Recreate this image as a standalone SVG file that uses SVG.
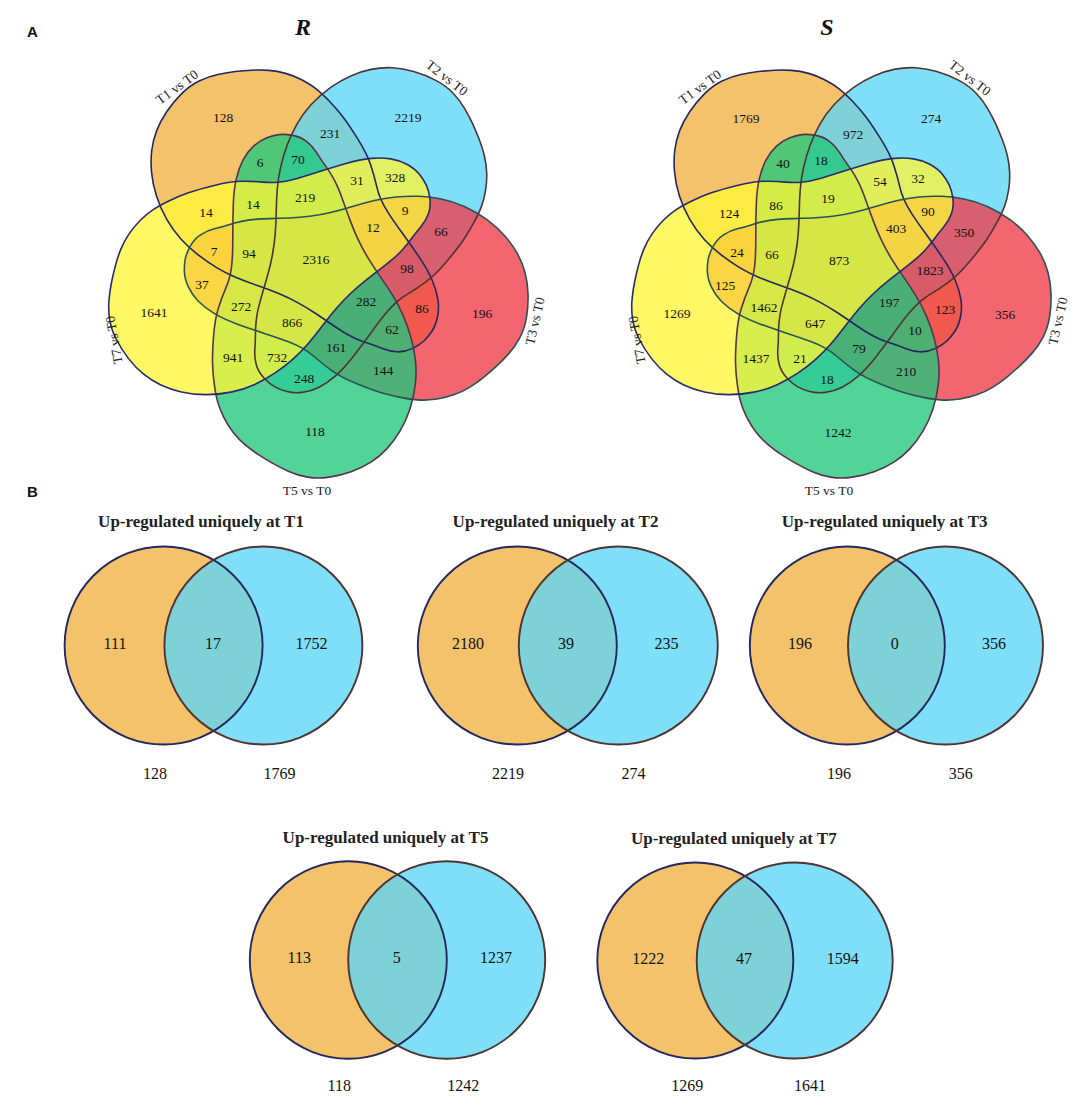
<svg xmlns="http://www.w3.org/2000/svg" xmlns:xlink="http://www.w3.org/1999/xlink" width="1084" height="1106" viewBox="0 0 1084 1106">
<style>
.f1{fill:#F0B140;fill-opacity:.78}
.f2{fill:#5CD6F6;fill-opacity:.78}
.f3{fill:#F03B48;fill-opacity:.78}
.f5{fill:#21C77B;fill-opacity:.78}
.f7{fill:#FCF638;fill-opacity:.78}
.o{fill:none;stroke-width:1.6}
.ob{fill:none;stroke-width:1.9}
.s1{stroke:#24285E}
.s2{stroke:#4E3432}
.s3{stroke:#2A5355}
.s5{stroke:#55344E}
.s7{stroke:#2A2A6E}
.n{font-family:"Liberation Serif","Times New Roman",serif;font-size:13.5px;text-anchor:middle;fill:#111}
.lab{font-family:"Liberation Serif","Times New Roman",serif;font-size:13.5px;text-anchor:middle;fill:#222}
.bn{font-family:"Liberation Serif","Times New Roman",serif;font-size:16px;text-anchor:middle;fill:#111}
.bt{font-family:"Liberation Serif","Times New Roman",serif;font-size:17px;font-weight:bold;text-anchor:middle;fill:#222}
.pl{font-family:"Liberation Sans",Arial,sans-serif;font-weight:bold;font-size:15px;fill:#111}
.ttl{font-family:"Liberation Serif","Times New Roman",serif;font-weight:bold;font-style:italic;font-size:24px;text-anchor:middle;fill:#111}
</style>
<defs>
<path id="sh" d="M-39,-126.75 Q-33,-127.5 -25,-126 Q-17,-124.5 -11,-119.75 Q-5,-115 -1,-108.5 Q3,-102 7,-96.5 Q11,-91 14.5,-85 Q18,-79 20.5,-73 Q23,-67 26,-58.5 Q29,-50 32.5,-40.5 Q36,-31 40.5,-21.5 Q45,-12 50.5,-3 Q56,6 63,16 Q70,26 75.5,35 Q81,44 85.5,54.5 Q90,65 93,75.5 Q96,86 97.5,98 Q99,110 97.5,123 Q96,136 92,148 Q88,160 82,170 Q76,180 69,187.5 Q62,195 53.5,200.5 Q45,206 34,210 Q23,214 11.5,215.75 Q0,217.5 -10,215.75 Q-20,214 -29,210 Q-38,206 -45,202 Q-52,198 -59,193.5 Q-66,189 -72.5,183.5 Q-79,178 -84.5,171 Q-90,164 -94,156 Q-98,148 -100,141 Q-102,134 -103.5,123 Q-105,112 -105.25,102 Q-105.5,92 -104.25,75 Q-103,58 -99.5,47 Q-96,36 -92.5,28 Q-89,20 -87.5,13 Q-86,6 -85.5,-3 Q-85,-12 -85,-27 Q-85,-42 -84.5,-57 Q-84,-72 -81.5,-82.5 Q-79,-93 -75,-101 Q-71,-109 -64.5,-115 Q-58,-121 -51.5,-123.5 Q-45,-126 -39,-126.75 Z"/>
</defs>
<rect width="1084" height="1106" fill="#ffffff"/>

<text class="pl" x="27" y="37">A</text>
<text class="pl" x="27" y="497">B</text>
<text class="ttl" x="303" y="35">R</text>
<text class="ttl" x="827" y="35">S</text>

<!-- R five-set diagram -->
<g id="venn-R" transform="translate(317.8,261.4)">
  <g id="R-T1"><use href="#sh" class="f1" transform="rotate(144)"/></g>
  <g id="R-T2"><use href="#sh" class="f2" transform="rotate(-144)"/></g>
  <g id="R-T3"><use href="#sh" class="f3" transform="rotate(-72)"/></g>
  <g id="R-T5"><use href="#sh" class="f5"/></g>
  <g id="R-T7"><use href="#sh" class="f7" transform="rotate(72)"/></g>
  <g id="R-outlines" class="o">
    <use href="#sh" class="s1" transform="rotate(144)"/>
    <use href="#sh" class="s2" transform="rotate(-144)"/>
    <use href="#sh" class="s3" transform="rotate(-72)"/>
    <use href="#sh" class="s5"/>
    <use href="#sh" class="s7" transform="rotate(72)"/>
  </g>
</g>
<g id="R-labels">
  <text class="lab" transform="translate(177,87) rotate(-36)" y="4.5">T1 vs T0</text>
  <text class="lab" transform="translate(447,78) rotate(38)" y="4.5">T2 vs T0</text>
  <text class="lab" transform="translate(535,321) rotate(-77)" y="4.5">T3 vs T0</text>
  <text class="lab" x="307" y="494.5">T5 vs T0</text>
  <text class="lab" transform="translate(114,340) rotate(-100)" y="4.5">T7 vs T0</text>
</g>
<g id="R-numbers" class="n">
  <text x="223" y="122">128</text>
  <text x="408" y="122">2219</text>
  <text x="330" y="138">231</text>
  <text x="260" y="167">6</text>
  <text x="298" y="164">70</text>
  <text x="357" y="185">31</text>
  <text x="395" y="182">328</text>
  <text x="206" y="217">14</text>
  <text x="253" y="209">14</text>
  <text x="305" y="202">219</text>
  <text x="405" y="215">9</text>
  <text x="373" y="232">12</text>
  <text x="441" y="236">66</text>
  <text x="214" y="256">7</text>
  <text x="249" y="258">94</text>
  <text x="316" y="264">2316</text>
  <text x="407" y="273">98</text>
  <text x="202" y="289">37</text>
  <text x="154" y="317">1641</text>
  <text x="241" y="311">272</text>
  <text x="366" y="306">282</text>
  <text x="422" y="313">86</text>
  <text x="482" y="318">196</text>
  <text x="292" y="327">866</text>
  <text x="392" y="334">62</text>
  <text x="336" y="352">161</text>
  <text x="233" y="362">941</text>
  <text x="277" y="362">732</text>
  <text x="383" y="375">144</text>
  <text x="304" y="383">248</text>
  <text x="315" y="436">118</text>
</g>

<!-- S five-set diagram -->
<g id="venn-S" transform="translate(840.8,261.4)">
  <g id="S-T1"><use href="#sh" class="f1" transform="rotate(144)"/></g>
  <g id="S-T2"><use href="#sh" class="f2" transform="rotate(-144)"/></g>
  <g id="S-T3"><use href="#sh" class="f3" transform="rotate(-72)"/></g>
  <g id="S-T5"><use href="#sh" class="f5"/></g>
  <g id="S-T7"><use href="#sh" class="f7" transform="rotate(72)"/></g>
  <g id="S-outlines" class="o">
    <use href="#sh" class="s1" transform="rotate(144)"/>
    <use href="#sh" class="s2" transform="rotate(-144)"/>
    <use href="#sh" class="s3" transform="rotate(-72)"/>
    <use href="#sh" class="s5"/>
    <use href="#sh" class="s7" transform="rotate(72)"/>
  </g>
</g>
<g id="S-labels">
  <text class="lab" transform="translate(700,87) rotate(-36)" y="4.5">T1 vs T0</text>
  <text class="lab" transform="translate(970,78) rotate(38)" y="4.5">T2 vs T0</text>
  <text class="lab" transform="translate(1058,321) rotate(-77)" y="4.5">T3 vs T0</text>
  <text class="lab" x="829" y="494.5">T5 vs T0</text>
  <text class="lab" transform="translate(637,340) rotate(-100)" y="4.5">T7 vs T0</text>
</g>
<g id="S-numbers" class="n">
  <text x="746" y="123">1769</text>
  <text x="931" y="123">274</text>
  <text x="853" y="139">972</text>
  <text x="783" y="168">40</text>
  <text x="821" y="165">18</text>
  <text x="880" y="186">54</text>
  <text x="918" y="183">32</text>
  <text x="729" y="218">124</text>
  <text x="776" y="210">86</text>
  <text x="828" y="203">19</text>
  <text x="928" y="216">90</text>
  <text x="896" y="233">403</text>
  <text x="964" y="237">350</text>
  <text x="737" y="257">24</text>
  <text x="772" y="259">66</text>
  <text x="839" y="265">873</text>
  <text x="930" y="275">1823</text>
  <text x="725" y="290">125</text>
  <text x="677" y="318">1269</text>
  <text x="764" y="312">1462</text>
  <text x="889" y="307">197</text>
  <text x="945" y="314">123</text>
  <text x="1005" y="319">356</text>
  <text x="815" y="328">647</text>
  <text x="915" y="335">10</text>
  <text x="756" y="363">1437</text>
  <text x="800" y="363">21</text>
  <text x="859" y="353">79</text>
  <text x="906" y="376">210</text>
  <text x="827" y="384">18</text>
  <text x="838" y="437">1242</text>
</g>

<!-- Part B two-set diagrams -->
<g id="B1">
  <text class="bt" x="201" y="527">Up-regulated uniquely at T1</text>
  <ellipse class="f1" cx="163.6" cy="645.5" rx="99" ry="99"/>
  <ellipse class="f2" cx="263.4" cy="645.5" rx="99" ry="99"/>
  <ellipse class="ob s1" cx="163.6" cy="645.5" rx="99" ry="99"/>
  <ellipse class="ob s2" cx="263.4" cy="645.5" rx="99" ry="99"/>
  <g class="bn"><text x="115" y="649">111</text><text x="213" y="649">17</text><text x="311.5" y="649">1752</text>
  <text x="155" y="778.5">128</text><text x="279.5" y="778.5">1769</text></g>
</g>
<g id="B2">
  <text class="bt" x="555.5" y="527">Up-regulated uniquely at T2</text>
  <ellipse class="f1" cx="517.3" cy="645.5" rx="99.5" ry="99"/>
  <ellipse class="f2" cx="618.3" cy="645.5" rx="99.5" ry="99"/>
  <ellipse class="ob s1" cx="517.3" cy="645.5" rx="99.5" ry="99"/>
  <ellipse class="ob s2" cx="618.3" cy="645.5" rx="99.5" ry="99"/>
  <g class="bn"><text x="468" y="649">2180</text><text x="566" y="649">39</text><text x="666.5" y="649">235</text>
  <text x="508" y="778.5">2219</text><text x="633.5" y="778.5">274</text></g>
</g>
<g id="B3">
  <text class="bt" x="884.7" y="527">Up-regulated uniquely at T3</text>
  <ellipse class="f1" cx="847.3" cy="645.5" rx="97.5" ry="99"/>
  <ellipse class="f2" cx="945.5" cy="645.5" rx="97.5" ry="99"/>
  <ellipse class="ob s1" cx="847.3" cy="645.5" rx="97.5" ry="99"/>
  <ellipse class="ob s2" cx="945.5" cy="645.5" rx="97.5" ry="99"/>
  <g class="bn"><text x="800" y="649">196</text><text x="894.7" y="649">0</text><text x="994" y="649">356</text>
  <text x="839" y="778.5">196</text><text x="960.8" y="778.5">356</text></g>
</g>
<g id="B4">
  <text class="bt" x="385.5" y="843">Up-regulated uniquely at T5</text>
  <ellipse class="f1" cx="348.3" cy="960" rx="98.5" ry="98.7"/>
  <ellipse class="f2" cx="446.7" cy="960" rx="98.5" ry="98.7"/>
  <ellipse class="ob s1" cx="348.3" cy="960" rx="98.5" ry="98.7"/>
  <ellipse class="ob s2" cx="446.7" cy="960" rx="98.5" ry="98.7"/>
  <g class="bn"><text x="299.3" y="963">113</text><text x="396.7" y="963">5</text><text x="496" y="963">1237</text>
  <text x="339.3" y="1090.5">118</text><text x="463.3" y="1090.5">1242</text></g>
</g>
<g id="B5">
  <text class="bt" x="733.8" y="843.5">Up-regulated uniquely at T7</text>
  <ellipse class="f1" cx="695.3" cy="960.5" rx="98" ry="98"/>
  <ellipse class="f2" cx="794.7" cy="960.5" rx="98" ry="98"/>
  <ellipse class="ob s1" cx="695.3" cy="960.5" rx="98" ry="98"/>
  <ellipse class="ob s2" cx="794.7" cy="960.5" rx="98" ry="98"/>
  <g class="bn"><text x="648.3" y="963.5">1222</text><text x="744" y="963.5">47</text><text x="842.7" y="963.5">1594</text>
  <text x="687.3" y="1090.5">1269</text><text x="810" y="1090.5">1641</text></g>
</g>
</svg>
